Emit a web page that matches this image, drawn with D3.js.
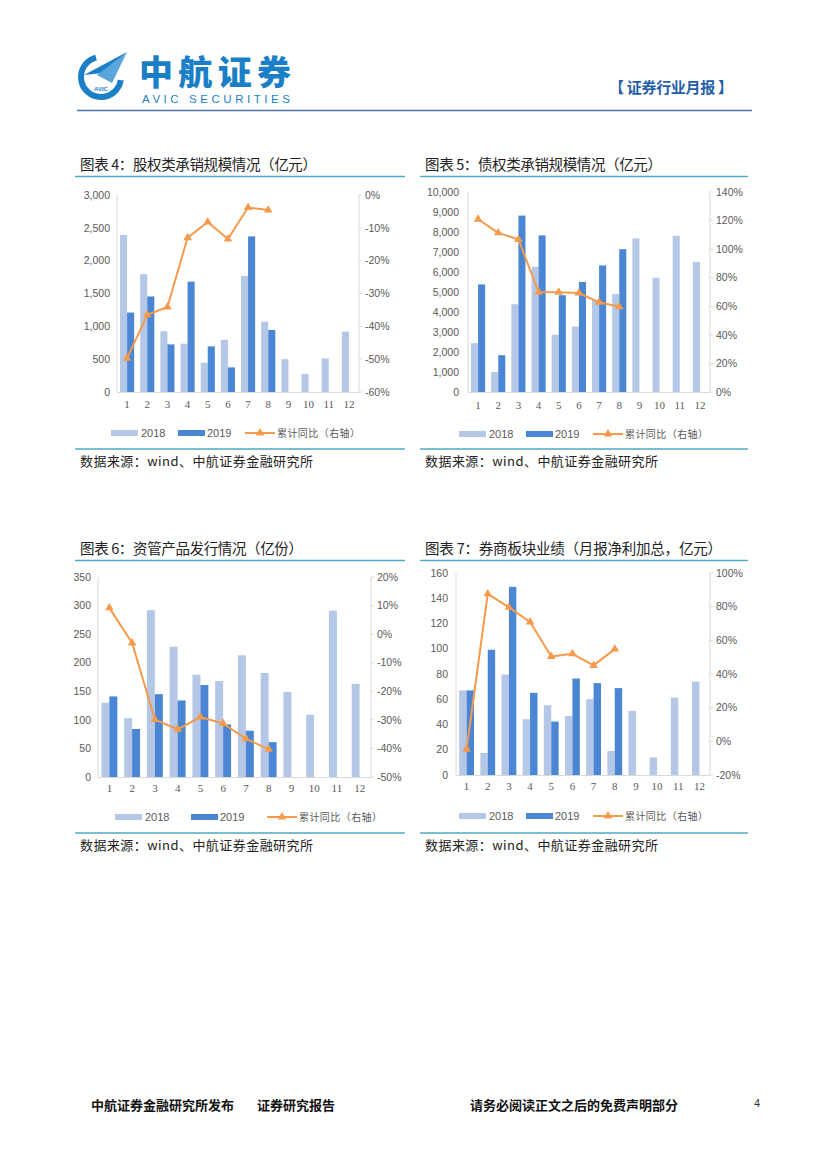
<!DOCTYPE html>
<html><head><meta charset="utf-8">
<script src="https://cdn.jsdelivr.net/npm/d3@7"></script>
<style>
html,body{margin:0;padding:0;background:#fff;}
svg{display:block;}
</style></head>
<body>
<div id="chart"></div>
<script>
// ---------------- DATA ----------------
const months = ["1","2","3","4","5","6","7","8","9","10","11","12"];
const seriesNames = ["2018","2019","累计同比（右轴）"];

// 图表4 股权类承销规模情况（亿元）
const equity2018 = [2390, 1795, 925, 735, 445, 795, 1765, 1070, 500, 275, 510, 920];
const equity2019 = [1210, 1455, 725, 1680, 695, 375, 2370, 945];
const equityYoY  = [-49.7, -36.5, -34.1, -13.0, -8.2, -13.4, -3.8, -4.6];
const equityLeftTicks  = [0, 500, 1000, 1500, 2000, 2500, 3000];
const equityRightTicks = [-60, -50, -40, -30, -20, -10, 0];

// 图表5 债权类承销规模情况（亿元）
const bond2018 = [2440, 1000, 4390, 6260, 2860, 3270, 4600, 4900, 7680, 5710, 7810, 6500];
const bond2019 = [5380, 1840, 8820, 7830, 4840, 5500, 6330, 7140];
const bondYoY  = [120.9, 111.4, 106.8, 70.0, 69.8, 69.3, 62.8, 59.7];
const bondLeftTicks  = [0, 1000, 2000, 3000, 4000, 5000, 6000, 7000, 8000, 9000, 10000];
const bondRightTicks = [0, 20, 40, 60, 80, 100, 120, 140];

// 图表6 资管产品发行情况（亿份）
const asset2018 = [130, 103, 292, 228, 179, 168, 213, 182, 149, 109, 291, 163];
const asset2019 = [141, 84, 145, 134, 161, 92, 81, 61];
const assetYoY  = [9.2, -3.1, -29.9, -33.3, -29.0, -31.3, -36.6, -40.3];
const assetLeftTicks  = [0, 50, 100, 150, 200, 250, 300, 350];
const assetRightTicks = [-50, -40, -30, -20, -10, 0, 10, 20];

// 图表7 券商板块业绩（月报净利加总，亿元）
const broker2018 = [67, 17.5, 79.6, 44.2, 55.3, 46.8, 60.1, 19, 50.8, 14, 61.3, 74];
const broker2019 = [67, 99.2, 149, 65.1, 42.3, 76.4, 72.8, 68.8];
const brokerYoY  = [-4.7, 87.6, 79.6, 70.9, 50.4, 52.0, 45.1, 54.8];
const brokerLeftTicks  = [0, 20, 40, 60, 80, 100, 120, 140, 160];
const brokerRightTicks = [-20, 0, 20, 40, 60, 80, 100];

const sourceText = "数据来源：wind、中航证券金融研究所";

// ---------------- STYLE ----------------
const C = {
  light: "#b4c7e7",
  dark: "#4a86d4",
  line: "#f59a4b",
  axis: "#d9d9d9",
  tick: "#595959",
  rule: "#4fa9c4",
  brand: "#1a7fc7"
};
const CJK = "'Noto Sans CJK SC','Noto Sans',sans-serif";
const SANS = "'Liberation Sans',Arial,sans-serif";
const SERIF = "'Liberation Serif','Times New Roman',serif";

const W = 827, H = 1169;
const svg = d3.select("#chart").append("svg").attr("width", W).attr("height", H);
svg.append("rect").attr("width", W).attr("height", H).attr("fill", "#fff");

// ---------------- HEADER ----------------
const logo = svg.append("g");
logo.append("path")
  .attr("transform", "translate(101,77)")
  .attr("d", d3.arc().innerRadius(17).outerRadius(23).startAngle(0.55 * Math.PI).endAngle(1.92 * Math.PI)())
  .attr("fill", C.brand);
logo.append("path").attr("d", "M84,75 L127,52 L103,73 Z").attr("fill", C.brand);
logo.append("path").attr("d", "M97,75 L127,52 L112,83 Z").attr("fill", "#5aa6dc");
logo.append("text").attr("x", 101).attr("y", 91).attr("text-anchor", "middle")
  .attr("font-family", SANS).attr("font-size", 6).attr("font-weight", 700).attr("fill", C.brand).text("AVIC");

svg.append("text").attr("x", 139).attr("y", 85)
  .attr("font-family", CJK).attr("font-weight", 900).attr("font-size", 34)
  .attr("fill", C.brand).attr("textLength", 152).attr("lengthAdjust", "spacing").text("中航证券");
svg.append("text").attr("x", 142).attr("y", 103)
  .attr("font-family", SANS).attr("font-size", 11.5)
  .attr("fill", C.brand).attr("textLength", 148).attr("lengthAdjust", "spacing").text("AVIC  SECURITIES");

svg.append("text").attr("x", 609).attr("y", 93)
  .attr("font-family", CJK).attr("font-weight", 700).attr("font-size", 15)
  .attr("fill", "#1f5fa8").attr("textLength", 124).attr("lengthAdjust", "spacing").text("【 证券行业月报 】");

svg.append("line").attr("x1", 77).attr("x2", 752).attr("y1", 110.5).attr("y2", 110.5)
  .attr("stroke", "#4a74b0").attr("stroke-width", 1.6);

// ---------------- FOOTER ----------------
svg.append("text").attr("x", 91).attr("y", 1110).attr("font-family", CJK).attr("font-weight", 700)
  .attr("font-size", 13).attr("fill", "#111").text("中航证券金融研究所发布");
svg.append("text").attr("x", 257).attr("y", 1110).attr("font-family", CJK).attr("font-weight", 700)
  .attr("font-size", 13).attr("fill", "#111").text("证券研究报告");
svg.append("text").attr("x", 470).attr("y", 1110).attr("font-family", CJK).attr("font-weight", 700)
  .attr("font-size", 13).attr("fill", "#111").text("请务必阅读正文之后的免费声明部分");
svg.append("text").attr("x", 754).attr("y", 1107).attr("font-family", SANS)
  .attr("font-size", 11).attr("fill", "#333").text("4");

// ---------------- CHART FUNCTION ----------------
function drawChart(cfg) {
  const g = svg.append("g");
  // title & rules
  g.append("text").attr("x", cfg.titleX).attr("y", cfg.titleY)
    .attr("font-family", CJK).attr("font-size", 14.5).attr("fill", "#222")
    .attr("textLength", cfg.titleLen).attr("lengthAdjust", "spacing").text(cfg.title);
  g.append("line").attr("x1", cfg.ruleX0).attr("x2", cfg.ruleX1)
    .attr("y1", cfg.titleY + 6.5).attr("y2", cfg.titleY + 6.5)
    .attr("stroke", C.rule).attr("stroke-width", 1.5);
  g.append("line").attr("x1", cfg.ruleX0).attr("x2", cfg.ruleX1)
    .attr("y1", cfg.bottomRuleY).attr("y2", cfg.bottomRuleY)
    .attr("stroke", C.rule).attr("stroke-width", 1.5);
  g.append("text").attr("x", cfg.titleX).attr("y", cfg.bottomRuleY + 17)
    .attr("font-family", CJK).attr("font-size", 13).attr("fill", "#222")
    .attr("textLength", 233).attr("lengthAdjust", "spacing").text(sourceText);

  const x = d3.scaleBand().domain(months).range([cfg.x0, cfg.x1]).paddingInner(0).paddingOuter(0);
  const yL = d3.scaleLinear().domain(d3.extent(cfg.leftTicks)).range([cfg.yBottom, cfg.yTop]);
  const yR = d3.scaleLinear().domain(d3.extent(cfg.rightTicks)).range([cfg.yBottom, cfg.yTop]);
  const bw = x.bandwidth() * 0.35;
  const cx = m => x(m) + x.bandwidth() / 2;

  // axis lines
  g.append("line").attr("x1", cfg.x0).attr("x2", cfg.x0).attr("y1", cfg.yTop).attr("y2", cfg.yBottom)
    .attr("stroke", C.axis).attr("stroke-width", 1);
  g.append("line").attr("x1", cfg.x1).attr("x2", cfg.x1).attr("y1", cfg.yTop).attr("y2", cfg.yBottom)
    .attr("stroke", C.axis).attr("stroke-width", 1);
  g.append("line").attr("x1", cfg.x0).attr("x2", cfg.x1).attr("y1", cfg.yBottom + 0.5).attr("y2", cfg.yBottom + 0.5)
    .attr("stroke", C.axis).attr("stroke-width", 1);

  // right ticks
  g.selectAll(".rt").data(cfg.rightTicks).join("line")
    .attr("x1", cfg.x1).attr("x2", cfg.x1 + 3)
    .attr("y1", d => yR(d)).attr("y2", d => yR(d))
    .attr("stroke", C.axis);

  // left labels
  g.selectAll(".ll").data(cfg.leftTicks).join("text")
    .attr("x", cfg.leftLabelX).attr("y", d => yL(d)).attr("dy", "0.35em")
    .attr("text-anchor", "end").attr("font-family", SANS).attr("font-size", 10.5)
    .attr("fill", C.tick).text(d => cfg.leftFmt(d));
  // right labels
  g.selectAll(".rl").data(cfg.rightTicks).join("text")
    .attr("x", cfg.x1 + 6).attr("y", d => yR(d)).attr("dy", "0.35em")
    .attr("font-family", SANS).attr("font-size", 10.5)
    .attr("fill", C.tick).text(d => d + "%");
  // x labels
  g.selectAll(".xl").data(months).join("text")
    .attr("x", d => cx(d)).attr("y", cfg.xLabelY).attr("text-anchor", "middle")
    .attr("font-family", SERIF).attr("font-size", 11).attr("fill", C.tick).text(d => d);

  // bars
  g.selectAll(".b18").data(cfg.s2018).join("rect")
    .attr("x", (d, i) => cx(months[i]) - bw).attr("width", bw)
    .attr("y", d => yL(d)).attr("height", d => yL(0) - yL(d)).attr("fill", C.light);
  g.selectAll(".b19").data(cfg.s2019).join("rect")
    .attr("x", (d, i) => cx(months[i])).attr("width", bw)
    .attr("y", d => yL(d)).attr("height", d => yL(0) - yL(d)).attr("fill", C.dark);

  // line
  const line = d3.line().x((d, i) => cx(months[i])).y(d => yR(d));
  g.append("path").datum(cfg.yoy).attr("d", line).attr("fill", "none")
    .attr("stroke", C.line).attr("stroke-width", 2).attr("stroke-linejoin", "round");
  g.selectAll(".mk").data(cfg.yoy).join("path")
    .attr("d", d3.symbol(d3.symbolTriangle).size(32))
    .attr("transform", (d, i) => `translate(${cx(months[i])},${yR(d)})`)
    .attr("fill", C.line);

  // legend
  const ly = cfg.legend.y;
  g.append("rect").attr("x", cfg.legend.a).attr("y", ly - 3).attr("width", 27).attr("height", 6).attr("fill", C.light);
  g.append("text").attr("x", cfg.legend.a + 30).attr("y", ly).attr("dy", "0.35em")
    .attr("font-family", SANS).attr("font-size", 11).attr("fill", C.tick).text(seriesNames[0]);
  g.append("rect").attr("x", cfg.legend.b).attr("y", ly - 3).attr("width", 27).attr("height", 6).attr("fill", C.dark);
  g.append("text").attr("x", cfg.legend.b + 29).attr("y", ly).attr("dy", "0.35em")
    .attr("font-family", SANS).attr("font-size", 11).attr("fill", C.tick).text(seriesNames[1]);
  g.append("line").attr("x1", cfg.legend.c).attr("x2", cfg.legend.c + 30).attr("y1", ly).attr("y2", ly)
    .attr("stroke", C.line).attr("stroke-width", 2);
  g.append("path").attr("d", d3.symbol(d3.symbolTriangle).size(32)())
    .attr("transform", `translate(${cfg.legend.c + 15},${ly})`).attr("fill", C.line);
  g.append("text").attr("x", cfg.legend.c + 32).attr("y", ly).attr("dy", "0.35em")
    .attr("font-family", CJK).attr("font-size", 10).attr("fill", C.tick)
    .attr("textLength", 83).attr("lengthAdjust", "spacing").text(seriesNames[2]);
}

const fmtComma = d3.format(",");
const fmtPlain = d => String(d);

drawChart({
  title: "图表 4：股权类承销规模情况（亿元）", titleLen: 237,
  titleX: 80, titleY: 170, ruleX0: 75, ruleX1: 405, bottomRuleY: 449,
  x0: 117, x1: 359, yTop: 195, yBottom: 392,
  leftTicks: equityLeftTicks, rightTicks: equityRightTicks, leftFmt: fmtComma,
  leftLabelX: 110, xLabelY: 408,
  s2018: equity2018, s2019: equity2019, yoy: equityYoY,
  legend: { a: 111, b: 178, c: 245, y: 433 }
});

drawChart({
  title: "图表 5：债权类承销规模情况（亿元）", titleLen: 237,
  titleX: 425, titleY: 170, ruleX0: 420, ruleX1: 748, bottomRuleY: 449,
  x0: 468, x1: 710, yTop: 192, yBottom: 392,
  leftTicks: bondLeftTicks, rightTicks: bondRightTicks, leftFmt: fmtComma,
  leftLabelX: 459, xLabelY: 409,
  s2018: bond2018, s2019: bond2019, yoy: bondYoY,
  legend: { a: 459, b: 526, c: 593, y: 434 }
});

drawChart({
  title: "图表 6：资管产品发行情况（亿份）", titleLen: 223,
  titleX: 80, titleY: 554, ruleX0: 75, ruleX1: 405, bottomRuleY: 833,
  x0: 98, x1: 371, yTop: 577, yBottom: 777,
  leftTicks: assetLeftTicks, rightTicks: assetRightTicks, leftFmt: fmtPlain,
  leftLabelX: 91, xLabelY: 792,
  s2018: asset2018, s2019: asset2019, yoy: assetYoY,
  legend: { a: 115, b: 191, c: 267, y: 817 }
});

drawChart({
  title: "图表 7：券商板块业绩（月报净利加总，亿元）", titleLen: 297,
  titleX: 425, titleY: 554, ruleX0: 420, ruleX1: 748, bottomRuleY: 833,
  x0: 456, x1: 710, yTop: 573, yBottom: 775,
  leftTicks: brokerLeftTicks, rightTicks: brokerRightTicks, leftFmt: fmtPlain,
  leftLabelX: 448, xLabelY: 790,
  s2018: broker2018, s2019: broker2019, yoy: brokerYoY,
  legend: { a: 459, b: 526, c: 593, y: 816 }
});
</script>
</body></html>
